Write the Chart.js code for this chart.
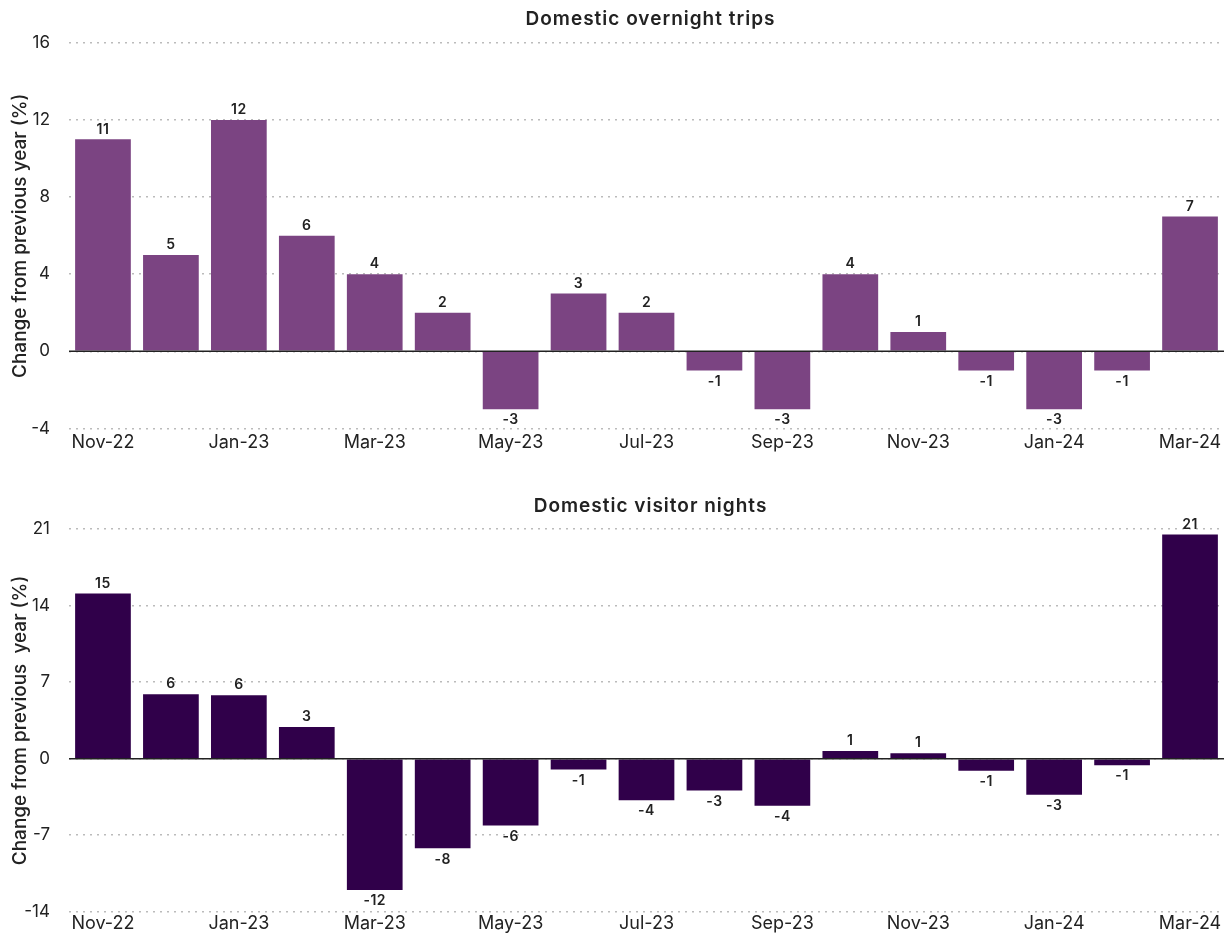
<!DOCTYPE html>
<html>
<head>
<meta charset="utf-8">
<script src="https://cdn.jsdelivr.net/npm/chart.js@4"></script>
<style>
  body { margin: 0; background: #fff; }
  .box { position: relative; width: 1230px; }
  #top { height: 483px; }
  #bottom { height: 458px; }
</style>
</head>
<body>
<div class="box" id="top"><canvas id="tripsChart"></canvas></div>
<div class="box" id="bottom"><canvas id="nightsChart"></canvas></div>
<script>
const months = ['Nov-22', 'Dec-22', 'Jan-23', 'Feb-23', 'Mar-23', 'Apr-23', 'May-23', 'Jun-23', 'Jul-23',
  'Aug-23', 'Sep-23', 'Oct-23', 'Nov-23', 'Dec-23', 'Jan-24', 'Feb-24', 'Mar-24'];
const tripsChange = [11, 5, 12, 6, 4, 2, -3, 3, 2, -1, -3, 4, 1, -1, -3, -1, 7];
const nightsChange = [15.1, 5.9, 5.8, 2.9, -12.0, -8.2, -6.1, -1.0, -3.8, -2.9, -4.3, 0.7, 0.5, -1.1, -3.3, -0.6, 20.5];

const FONT = 'Inter, "Noto Sans", sans-serif';

// title over the plot area, value labels on the bars, and the dark zero line
const barLabels = {
  id: 'barLabels',
  afterDatasetsDraw(chart, args, opts) {
    const ctx = chart.ctx;
    const area = chart.chartArea;
    const y0 = chart.scales.y.getPixelForValue(0);
    ctx.save();
    ctx.strokeStyle = '#222';
    ctx.lineWidth = 1.5;
    ctx.beginPath();
    ctx.moveTo(area.left, y0);
    ctx.lineTo(area.right, y0);
    ctx.stroke();

    ctx.fillStyle = '#222';
    ctx.textAlign = 'center';
    ctx.textBaseline = 'middle';
    ctx.letterSpacing = '1px';
    ctx.font = '600 19px ' + FONT;
    ctx.fillText(opts.title, (area.left + area.right) / 2 + 4, opts.titleY);

    ctx.letterSpacing = '0.5px';
    ctx.font = '600 14px ' + FONT;
    const data = chart.data.datasets[0].data;
    chart.getDatasetMeta(0).data.forEach((bar, i) => {
      const v = data[i];
      const txt = String(Math.round(v));
      if (v >= 0) {
        ctx.textBaseline = 'bottom';
        ctx.fillText(txt, bar.x, bar.y - 3);
      } else {
        ctx.textBaseline = 'top';
        ctx.fillText(txt, bar.x, bar.y + 4);
      }
    });
    ctx.restore();
  }
};

function makeChart(id, title, titleY, topPad, yTitle, values, color, min, max, step, bottomPad, tickPad) {
  const ctx = document.getElementById(id).getContext('2d');
  return new Chart(ctx, {
    type: 'bar',
    data: {
      labels: months,
      datasets: [{
        data: values,
        backgroundColor: color,
        barPercentage: 0.82,
        categoryPercentage: 1
      }]
    },
    options: {
      responsive: true,
      maintainAspectRatio: false,
      animation: false,
      layout: { padding: { top: topPad, left: 9, right: 6, bottom: bottomPad } },
      plugins: {
        legend: { display: false },
        tooltip: { enabled: false },
        title: { display: false },
        barLabels: { title: title, titleY: titleY }
      },
      scales: {
        x: {
          grid: { display: false, drawTicks: false },
          border: { display: false },
          ticks: {
            autoSkip: false,
            maxRotation: 0,
            padding: tickPad,
            color: '#222',
            font: { family: FONT, size: 18 },
            callback: (v, i) => (i % 2 === 0 ? months[i] : '')
          }
        },
        y: {
          min: min,
          max: max,
          afterFit: (scale) => { scale.width = 60; },
          border: { display: false, dash: [2, 5] },
          grid: { color: '#bbb', lineWidth: 1.5, drawTicks: false },
          ticks: {
            stepSize: step,
            padding: 19,
            color: '#222',
            font: { family: FONT, size: 17 }
          },
          title: {
            display: true,
            text: yTitle,
            color: '#222',
            font: { family: FONT, size: 19, weight: '500' },
            padding: 0
          }
        }
      }
    },
    plugins: [barLabels]
  });
}

makeChart('tripsChart', 'Domestic overnight trips', 19, 43, 'Change from previous year (%)',
  tripsChange, '#7b4482', -4, 16, 4, 27, 3);
makeChart('nightsChart', 'Domestic visitor nights', 23, 46, 'Change from previous  year (%)',
  nightsChange, '#30004a', -14, 21, 7, 0, 1);
</script>
</body>
</html>
